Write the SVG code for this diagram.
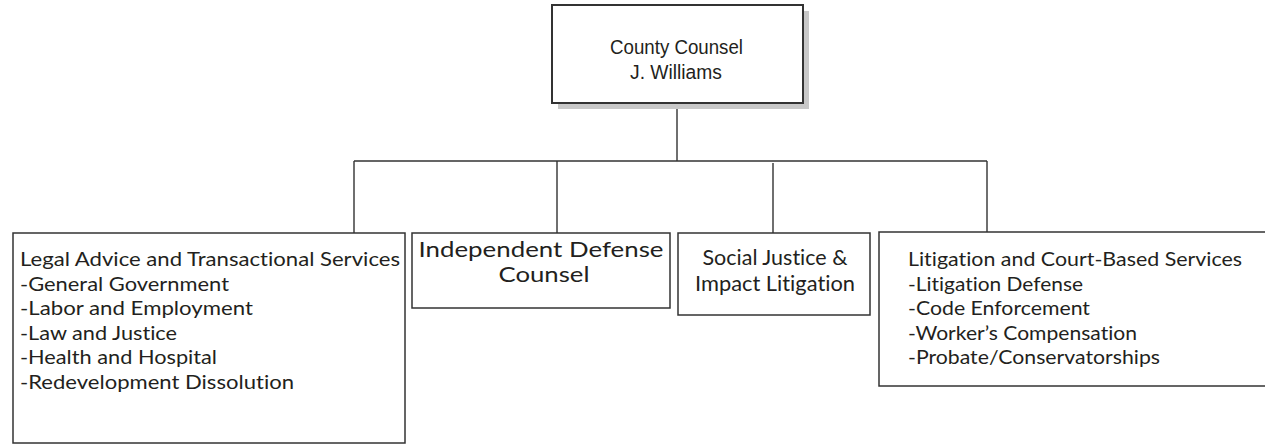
<svg xmlns="http://www.w3.org/2000/svg" width="1265" height="445" viewBox="0 0 1265 445">
<style>
.box{fill:#fff;stroke:#333;stroke-width:1.5}
.shadow{fill:#c8c8c8}
.ln{stroke:#333;stroke-width:1.4;fill:none}
.c{font-family:"Liberation Sans",Arial,sans-serif;font-size:20.5px;fill:#231f20}
.m{font-family:Lato,"Open Sans",sans-serif;font-size:20px;fill:#231f20;font-variant-ligatures:none}
.mc{font-family:Lato,"Open Sans",sans-serif;font-size:20.5px;fill:#231f20;text-anchor:middle;font-variant-ligatures:none}
</style>
<rect width="1265" height="445" fill="#fff"/>
<g id="connectors">
<path class="ln" d="M677 103V161M354 161H987M354 161V233M557 161V233M773 163V233M987 161V234"/>
</g>
<g id="county-counsel">
<rect class="shadow" x="558" y="11" width="251" height="98"/>
<rect class="box" x="552" y="5" width="251" height="98" style="stroke-width:2"/>
<text class="c" x="610" y="54" textLength="133" lengthAdjust="spacingAndGlyphs">County Counsel</text>
<text class="c" x="630" y="78.5" textLength="92" lengthAdjust="spacingAndGlyphs">J. Williams</text>
</g>
<g id="legal-advice">
<rect class="box" x="13" y="233" width="392" height="210"/>
<text class="m" x="20" y="266" textLength="380" lengthAdjust="spacingAndGlyphs">Legal Advice and Transactional Services</text>
<text class="m" x="20" y="290.5" textLength="209" lengthAdjust="spacingAndGlyphs">-General Government</text>
<text class="m" x="20" y="315" textLength="233" lengthAdjust="spacingAndGlyphs">-Labor and Employment</text>
<text class="m" x="20" y="339.5" textLength="157" lengthAdjust="spacingAndGlyphs">-Law and Justice</text>
<text class="m" x="20" y="364" textLength="197" lengthAdjust="spacingAndGlyphs">-Health and Hospital</text>
<text class="m" x="20" y="388.5" textLength="274" lengthAdjust="spacingAndGlyphs">-Redevelopment Dissolution</text>
</g>
<g id="independent-defense">
<rect class="box" x="412" y="233" width="258" height="75"/>
<text class="mc" x="541" y="257" textLength="245" lengthAdjust="spacingAndGlyphs">Independent Defense</text>
<text class="mc" x="544" y="282" textLength="91" lengthAdjust="spacingAndGlyphs">Counsel</text>
</g>
<g id="social-justice">
<rect class="box" x="678" y="233" width="192" height="82"/>
<text class="mc" x="775" y="265" textLength="145" lengthAdjust="spacingAndGlyphs">Social Justice &amp;</text>
<text class="mc" x="775" y="291" textLength="160" lengthAdjust="spacingAndGlyphs">Impact Litigation</text>
</g>
<g id="litigation">
<rect class="box" x="879" y="232" width="400" height="154"/>
<text class="m" x="908" y="266" textLength="334" lengthAdjust="spacingAndGlyphs">Litigation and Court-Based Services</text>
<text class="m" x="908" y="290.5" textLength="175" lengthAdjust="spacingAndGlyphs">-Litigation Defense</text>
<text class="m" x="908" y="315" textLength="182" lengthAdjust="spacingAndGlyphs">-Code Enforcement</text>
<text class="m" x="908" y="339.5" textLength="229" lengthAdjust="spacingAndGlyphs">-Worker’s Compensation</text>
<text class="m" x="908" y="364" textLength="252" lengthAdjust="spacingAndGlyphs">-Probate/Conservatorships</text>
</g>
</svg>
